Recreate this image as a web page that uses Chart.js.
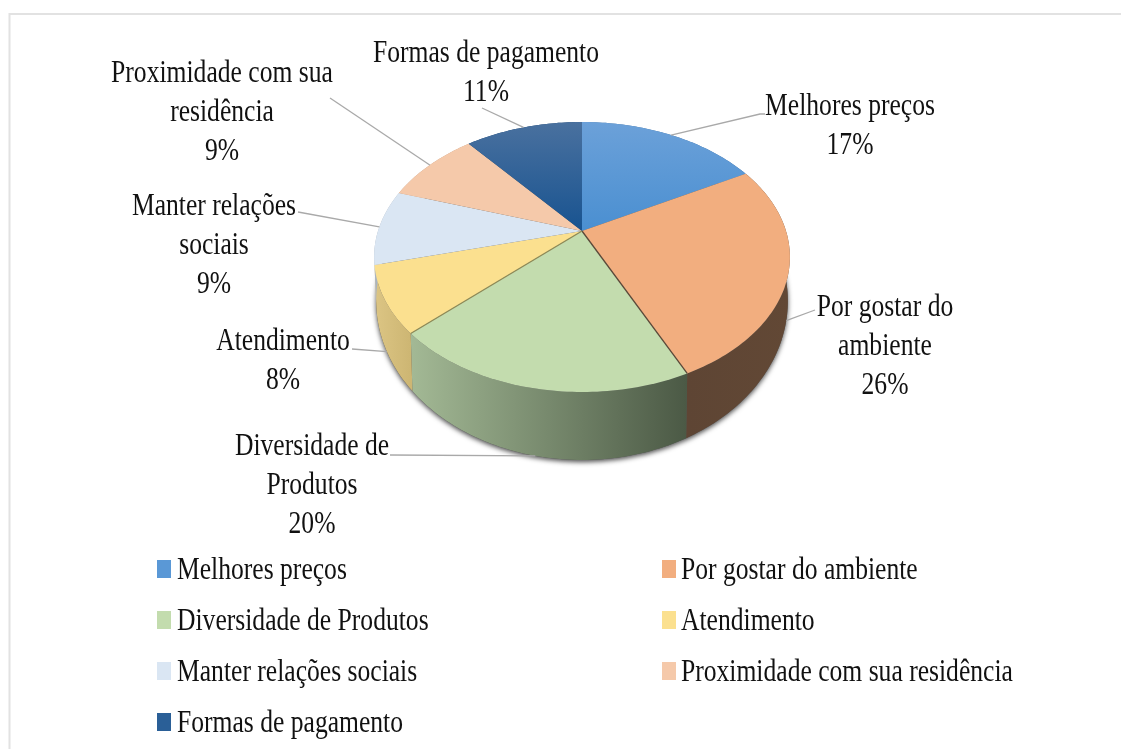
<!DOCTYPE html>
<html><head><meta charset="utf-8">
<style>html,body{margin:0;padding:0;background:#fff}canvas{display:block;filter:blur(0.45px)}</style>
<script src="https://cdn.jsdelivr.net/npm/chart.js@4"></script>
</head><body><canvas id="c" width="1121" height="749"></canvas>
<script>
const categories = ['Melhores preços','Por gostar do ambiente','Diversidade de Produtos','Atendimento','Manter relações sociais','Proximidade com sua residência','Formas de pagamento'];
const values = [17,26,20,8,9,9,11];
const calloutLines = [['Melhores preços'],['Por gostar do','ambiente'],['Diversidade de','Produtos'],['Atendimento'],['Manter relações','sociais'],['Proximidade com sua','residência'],['Formas de pagamento']];

// layout / style (separate from data)
const topColors = [['#6ca1d9','#4a8fd1'],['#f2ae7f','#f2ae7f'],['#c3dcae','#c3dcae'],['#fbe08f','#fbe08f'],['#dae6f3','#dae6f3'],['#f5c9aa','#f5c9aa'],['#4a719f','#185390']];
const wallColors = [['#4a78a8','#3a6a9c'],['#5e4534','#624835'],['#a3b995','#4b5945'],['#dcc584','#cdb673'],['#aab4c0','#aab4c0'],['#c09a80','#c09a80'],['#123d6c','#123d6c']];
const swatch = ['#5a98d6','#f2ae7f','#c3dcae','#fbe08f','#dae6f3','#f5c9aa','#2a5f97'];
const labelBox = [
 {cx:850,y:115,line:[[760,114],[765,114]],wall:false},
 {cx:885,y:316,line:[[815,310]],wall:true},
 {cx:312,y:455,line:[[390,455]],wall:true},
 {cx:283,y:350,line:[[352,349]],wall:true},
 {cx:214,y:215,line:[[298,212]],wall:false},
 {cx:222,y:82,line:[[330,98]],wall:false},
 {cx:486,y:62,line:[[482,108]],wall:false}
];
const lineGap = 39;
const legendPos = [[157,579,20],[662,579,19],[157,630,20],[662,630,19],[157,681,20],[662,681,19],[157,732,20]];
const TILT = 130/204, K = 0.1926;
const FONT = '25.6px "Liberation Serif"', SY = 1.25;

// projection of the library's circular arc onto the tilted disc
function proj(el, ang){
  const u = Math.cos(ang), v = Math.sin(ang), w = 1 - K*v, R = el.outerRadius;
  return [el.x + R*u/w, el.y + TILT*R*v/w];
}
function depth(el, p){
  const t = (p[1] - (el.y + 26)) / 135;
  return [el.x + (p[0]-el.x)*0.99, p[1] + 44 + 24*t];
}
function samples(el){
  const n = Math.max(2, Math.ceil((el.endAngle-el.startAngle)/0.02)), a = [];
  for(let i=0;i<=n;i++) a.push(el.startAngle + (el.endAngle-el.startAngle)*i/n);
  return a;
}
Chart.ArcElement.prototype.draw = function(ctx){
  const i = this.$context.dataIndex, pts = samples(this).map(a=>proj(this,a));
  ctx.save();
  ctx.beginPath(); ctx.moveTo(this.x,this.y);
  pts.forEach(p=>ctx.lineTo(p[0],p[1])); ctx.closePath();
  const g = ctx.createLinearGradient(0,this.y-110,0,this.y);
  g.addColorStop(0,topColors[i][0]); g.addColorStop(1,topColors[i][1]);
  ctx.fillStyle = g; ctx.fill();
  ctx.restore();
};
const depthPlugin = {
  id:'depth',
  beforeDatasetsDraw(chart){
    const ctx = chart.ctx, arcs = chart.getDatasetMeta(0).data;
    // soft shadow under the disc
    ctx.save();
    ctx.shadowColor='rgba(0,0,0,0.7)'; ctx.shadowBlur=5; ctx.shadowOffsetY=2;
    ctx.fillStyle='#555'; ctx.beginPath();
    arcs.forEach(el=>samples(el).forEach(a=>{const b=depth(el,proj(el,a));ctx.lineTo(b[0],b[1]);}));
    ctx.closePath(); ctx.fill(); ctx.restore();
    arcs.forEach((el,i)=>{
      const top = samples(el).map(a=>proj(el,a)), bot = top.map(p=>depth(el,p));
      const xs = top.map(p=>p[0]);
      const g = ctx.createLinearGradient(Math.min(...xs),0,Math.max(...xs),0);
      g.addColorStop(0,wallColors[i][0]); g.addColorStop(1,wallColors[i][1]);
      ctx.fillStyle=g; ctx.beginPath();
      top.forEach(p=>ctx.lineTo(p[0],p[1]));
      bot.reverse().forEach(p=>ctx.lineTo(p[0],p[1]));
      ctx.closePath(); ctx.fill();
    });
  },
  afterDatasetsDraw(chart){
    const ctx = chart.ctx, arcs = chart.getDatasetMeta(0).data;
    // dark seams along the green slice
    const el = arcs[2];
    ctx.save(); ctx.lineWidth=1.3;
    ctx.strokeStyle='#5b4a3a';
    let p = proj(el,el.startAngle); ctx.beginPath(); ctx.moveTo(el.x,el.y); ctx.lineTo(p[0],p[1]); ctx.stroke();
    ctx.strokeStyle='#8d8a58';
    p = proj(el,el.endAngle); ctx.beginPath(); ctx.moveTo(el.x,el.y); ctx.lineTo(p[0],p[1]); ctx.stroke();
    ctx.restore();
  }
};
function text(ctx,s,x,y,align){
  ctx.save(); ctx.translate(x,y); ctx.scale(1,SY);
  ctx.font=FONT; ctx.fillStyle='#111'; ctx.textAlign=align; ctx.textBaseline='alphabetic';
  ctx.fillText(s,0,0); ctx.restore();
}
const annotPlugin = {
  id:'annot',
  beforeDraw(chart){
    const ctx=chart.ctx;
    ctx.save(); ctx.fillStyle='#fff'; ctx.fillRect(0,0,1121,749);
    ctx.strokeStyle='#e2e2e2'; ctx.lineWidth=2; ctx.beginPath();
    ctx.moveTo(9.5,749); ctx.lineTo(9.5,14); ctx.lineTo(1121,14); ctx.stroke(); ctx.restore();
  },
  afterDraw(chart){
    const ctx=chart.ctx, arcs=chart.getDatasetMeta(0).data, total=values.reduce((a,b)=>a+b,0);
    arcs.forEach((el,i)=>{
      const b=labelBox[i];
      let p=proj(el,(el.startAngle+el.endAngle)/2);
      if(b.wall) p=depth(el,p);
      ctx.save(); ctx.strokeStyle='#a9a9a9'; ctx.lineWidth=1.3; ctx.beginPath(); ctx.moveTo(p[0],p[1]);
      b.line.forEach(q=>ctx.lineTo(q[0],q[1])); ctx.stroke(); ctx.restore();
      const lines=[...calloutLines[i], Math.round(values[i]/total*100)+'%'];
      lines.forEach((s,k)=>text(ctx,s,b.cx,b.y+k*lineGap,'center'));
    });
    categories.forEach((c,i)=>{
      const [x,y,gap]=legendPos[i];
      ctx.fillStyle=swatch[i]; ctx.fillRect(x,y-19,14,18);
      text(ctx,c,x+gap,y-0.5,'left');
    });
  }
};
new Chart(document.getElementById('c'),{
  type:'pie',
  data:{labels:categories,datasets:[{data:values,borderWidth:0,hoverOffset:0,backgroundColor:swatch}]},
  options:{responsive:false,animation:false,events:[],rotation:0,
    layout:{padding:{left:378,right:335,top:27,bottom:314}},
    plugins:{legend:{display:false},tooltip:{enabled:false}}},
  plugins:[annotPlugin,depthPlugin]
});
</script></body></html>
